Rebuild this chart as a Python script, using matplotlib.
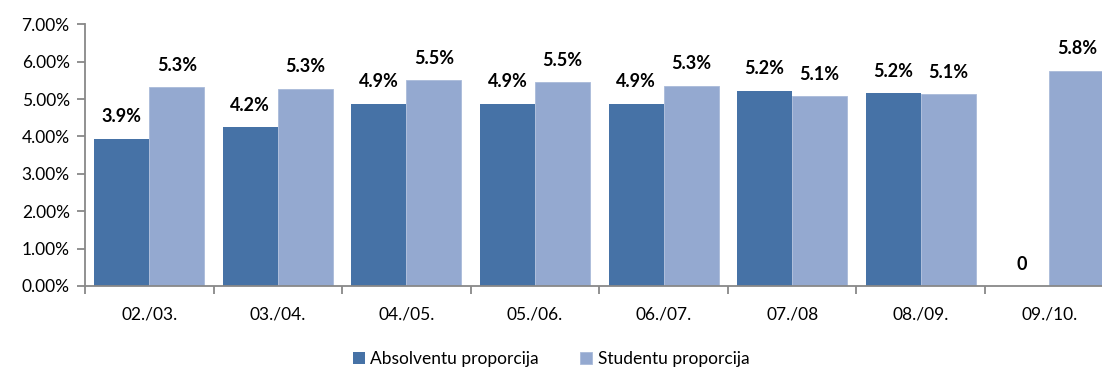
import matplotlib.pyplot as plt
import numpy as np
from matplotlib.ticker import FuncFormatter

plt.rcParams['font.family'] = ['Lato', 'DejaVu Sans']

# Studiju gadi un proporcijas (%)
gadi = ["02./03.", "03./04.", "04./05.", "05./06.", "06./07.", "07./08", "08./09.", "09./10."]
absolventi = [3.94, 4.24, 4.88, 4.87, 4.88, 5.22, 5.16, 0.0]
studenti = [5.31, 5.28, 5.50, 5.45, 5.35, 5.08, 5.13, 5.76]

TUMSA = '#4672A6'
GAISA = '#94A9D0'
ASS = '#888888'


def uzraksts(v):
    # Excel rāda nulli bez formāta
    if v == 0:
        return "0"
    return f"{v:.1f}%"


fig = plt.figure(figsize=(11.02, 3.71), dpi=100)
ax = fig.add_axes([85 / 1102, 1 - 286 / 371, 1028.6 / 1102, 261.7 / 371])

x = np.arange(len(gadi)) + 0.5
w = 0.428
b1 = ax.bar(x - w / 2, absolventi, w, color=TUMSA, label='Absolventu proporcija')
b2 = ax.bar(x + w / 2, studenti, w, color=GAISA, label='Studentu proporcija',
            edgecolor='#A9BAD9', linewidth=0.6)

for bars, vals in ((b1, absolventi), (b2, studenti)):
    for r, v in zip(bars, vals):
        ax.annotate(uzraksts(v), (r.get_x() + r.get_width() / 2, v),
                    xytext=(0, 22), textcoords='offset pixels',
                    ha='center', va='center', fontsize=13, fontweight='bold')

ax.set_xlim(0, len(gadi))
ax.set_ylim(0, 7)
ax.set_yticks(np.arange(0, 8, 1))
ax.yaxis.set_major_formatter(FuncFormatter(lambda v, p: f"{v:.2f}%"))
ax.set_xticks(np.arange(len(gadi) + 1))
ax.set_xticklabels([])
ax.set_xticks(x, minor=True)
ax.set_xticklabels(gadi, minor=True)
ax.tick_params(axis='x', which='minor', length=0, pad=15, labelsize=12.5)
ax.tick_params(axis='x', which='major', length=6, color=ASS, width=1.3)
ax.tick_params(axis='y', length=6, color=ASS, width=1.3, labelsize=12.5, pad=5)

for s in ('top', 'right'):
    ax.spines[s].set_visible(False)
for s in ('left', 'bottom'):
    ax.spines[s].set_color(ASS)
    ax.spines[s].set_linewidth(1.3)

fig.legend(handles=[b1, b2], loc='center', bbox_to_anchor=(0.5, 1 - 359 / 371),
           ncol=2, frameon=False, fontsize=12.5, handlelength=0.7, handleheight=0.7,
           handletextpad=0.3, columnspacing=2.4)

fig.savefig('out.png', dpi=100)
